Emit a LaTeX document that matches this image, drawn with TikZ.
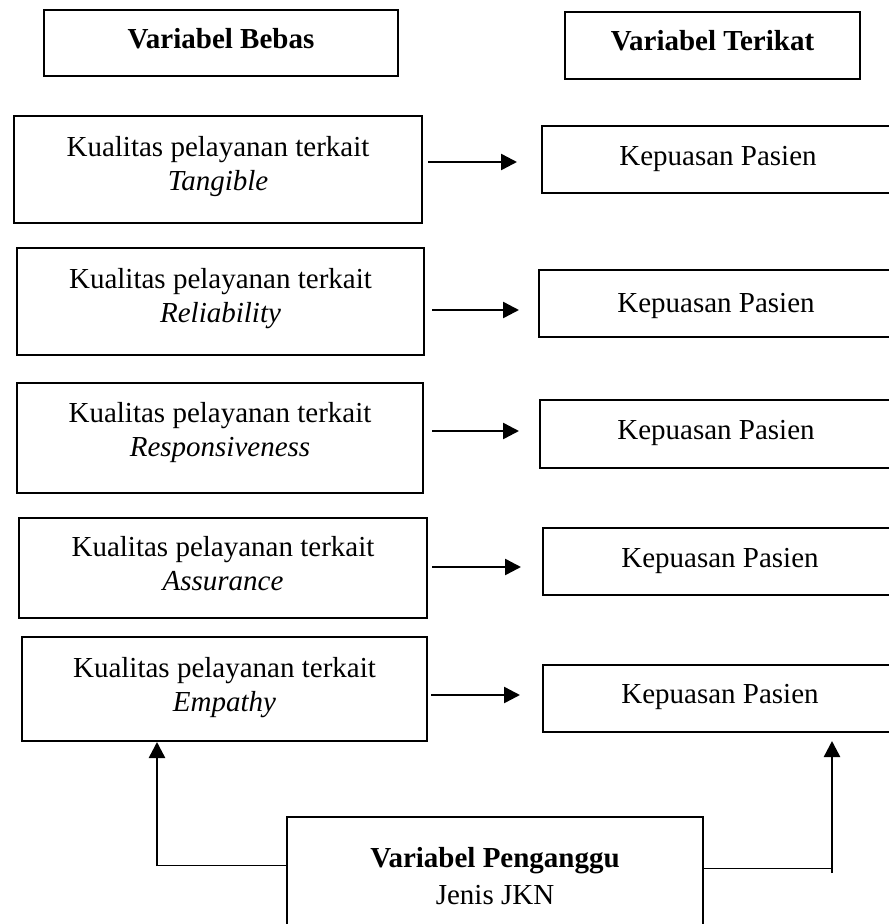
\documentclass[tikz,border=0pt]{standalone}
\usepackage{fontspec}
\setmainfont{Liberation Serif}
\usetikzlibrary{arrows.meta}
\begin{document}
\begin{tikzpicture}[x=1pt,y=-1pt,
  bx/.style={draw, line width=2pt, inner sep=0pt},
  txt/.style={font=\fontsize{29}{32}\selectfont, anchor=base, inner sep=0pt},
  arr/.style={line width=2.5pt, -{Triangle[length=16pt,width=16pt]}},
  thinline/.style={line width=1pt}]
\useasboundingbox (0,0) rectangle (889,924);
\clip (0,0) rectangle (889,924);
% headers
\node[bx, minimum width=354pt, minimum height=66pt] (HB) at (221,43) {};
\node[txt, font=\fontsize{29}{32}\selectfont\bfseries] (HBt) at (221,48) {Variabel Bebas};
\node[bx, minimum width=295pt, minimum height=67pt] (HT) at (712.5,45.5) {};
\node[txt, font=\fontsize{29}{32}\selectfont\bfseries] (HTt) at (712.5,50) {Variabel Terikat};
% left boxes
\node[bx, minimum width=408pt, minimum height=107pt] (L1) at (218,169.5) {};
\node[bx, minimum width=407pt, minimum height=107pt] (L2) at (220.5,301.5) {};
\node[bx, minimum width=406pt, minimum height=110pt] (L3) at (220,438) {};
\node[bx, minimum width=408pt, minimum height=100pt] (L4) at (223,568) {};
\node[bx, minimum width=405pt, minimum height=104pt] (L5) at (224.5,689) {};
% left texts
\node[txt] (L1a) at (L1.north |- 0,156) {Kualitas pelayanan terkait};
\node[txt] (L1b) at (L1.north |- 0,190) {\itshape Tangible};
\node[txt] (L2a) at (L2.north |- 0,288) {Kualitas pelayanan terkait};
\node[txt] (L2b) at (L2.north |- 0,322) {\itshape Reliability};
\node[txt] (L3a) at (L3.north |- 0,422) {Kualitas pelayanan terkait};
\node[txt] (L3b) at (L3.north |- 0,456) {\itshape Responsiveness};
\node[txt] (L4a) at (L4.north |- 0,556) {Kualitas pelayanan terkait};
\node[txt] (L4b) at (L4.north |- 0,590) {\itshape Assurance};
\node[txt] (L5a) at (L5.north |- 0,677) {Kualitas pelayanan terkait};
\node[txt] (L5b) at (L5.north |- 0,711) {\itshape Empathy};
% right boxes
\node[bx, minimum width=368pt, minimum height=67pt] (R1) at (726,159.5) {};
\node[bx, minimum width=371pt, minimum height=67pt] (R2) at (724.5,303.5) {};
\node[bx, minimum width=370pt, minimum height=68pt] (R3) at (725,434) {};
\node[bx, minimum width=367pt, minimum height=67pt] (R4) at (726.5,561.5) {};
\node[bx, minimum width=367pt, minimum height=67pt] (R5) at (726.5,698.5) {};
\node[txt] (R1t) at (718,165) {Kepuasan Pasien};
\node[txt] (R2t) at (716,312) {Kepuasan Pasien};
\node[txt] (R3t) at (716,439) {Kepuasan Pasien};
\node[txt] (R4t) at (720,567) {Kepuasan Pasien};
\node[txt] (R5t) at (720,703) {Kepuasan Pasien};
% horizontal arrows
\coordinate (y1) at (0,162);
\coordinate (y2) at (0,310);
\coordinate (y3) at (0,431);
\coordinate (y4) at (0,567);
\coordinate (y5) at (0,695);
\draw[arr, shorten <=5pt, shorten >=24pt] (L1.east |- y1) -- (R1.west |- y1);
\draw[arr, shorten <=7pt, shorten >=19pt] (L2.east |- y2) -- (R2.west |- y2);
\draw[arr, shorten <=8pt, shorten >=20pt] (L3.east |- y3) -- (R3.west |- y3);
\draw[arr, shorten <=4pt, shorten >=21pt] (L4.east |- y4) -- (R4.west |- y4);
\draw[arr, shorten <=3pt, shorten >=22pt] (L5.east |- y5) -- (R5.west |- y5);
% bottom box
\node[bx, minimum width=416pt, minimum height=140pt] (B) at (495,887) {};
\node[txt, font=\fontsize{29}{32}\selectfont\bfseries] (Ba) at (495,867) {Variabel Penganggu};
\node[txt] (Bb) at (495,904) {Jenis JKN};
% connectors from bottom box
\coordinate (cl) at (157,866);
\coordinate (cr) at (832,873);
\coordinate (hl) at (0,865);
\coordinate (hr) at (0,868);
\draw[thinline] (B.west |- hl) -- (cl |- hl);
\draw[arr] (cl) -- (cl |- L5.south);
\draw[thinline] (B.east |- hr) -- (cr |- hr);
\draw[arr, shorten >=8pt] (cr) -- (cr |- R5.south);
\end{tikzpicture}
\end{document}
